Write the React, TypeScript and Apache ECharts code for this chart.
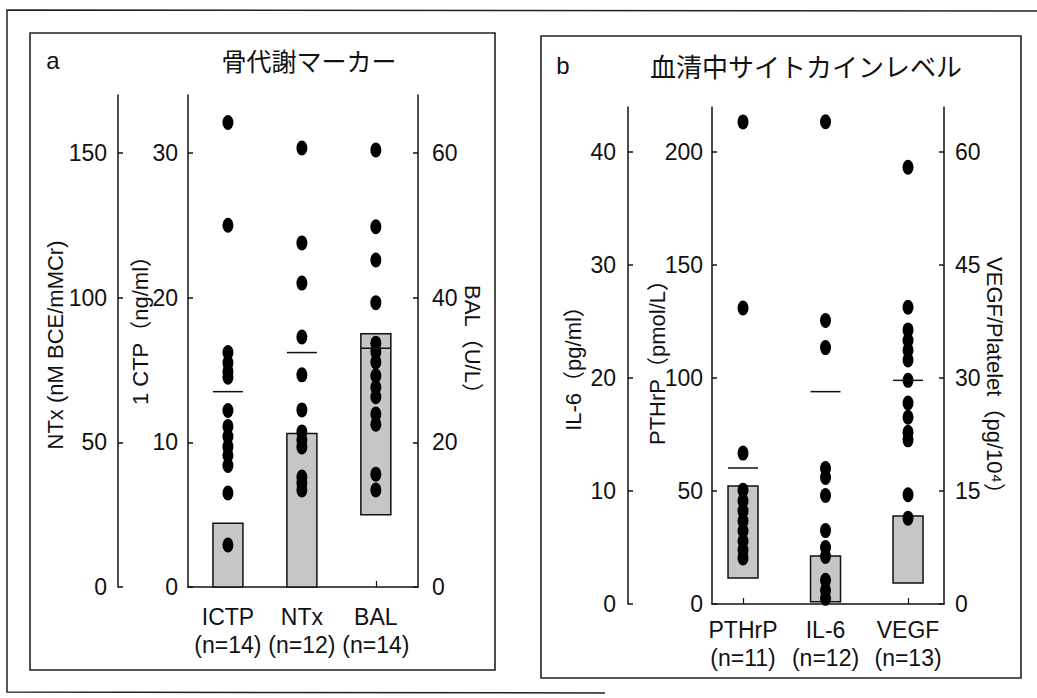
import React, { useEffect, useRef } from "react";
import * as echarts from "echarts";

// ---------- data ----------
// Panel a: 骨代謝マーカー
const panelACategories = ["ICTP", "NTx", "BAL"];
const panelACounts = [14, 12, 14];
const ictpValues = [32.1, 25.0, 16.2, 15.5, 14.9, 14.5, 12.2, 11.1, 10.4, 9.7, 9.1, 8.4, 6.5, 2.9]; // ng/ml
const ntxValues = [151.7, 118.9, 105.0, 86.4, 73.3, 61.2, 53.6, 50.8, 48.4, 38.0, 35.9, 33.5]; // nM BCE/mMCr
const balValues = [60.4, 49.8, 45.2, 39.3, 33.7, 32.5, 31.1, 29.2, 27.6, 26.3, 23.9, 22.5, 15.6, 13.4]; // U/L
const panelARangeLow = [0, 0, 10];
const panelARangeHigh = [4.4, 53, 35];
const panelAMeans = [13.5, 81, 33.0];

// Panel b: 血清中サイトカインレベル
const panelBCategories = ["PTHrP", "IL-6", "VEGF"];
const panelBCounts = [11, 12, 13];
const pthrpValues = [213.4, 131.0, 66.8, 50.4, 45.7, 41.2, 36.8, 32.4, 27.9, 23.9, 20.4]; // pmol/L
const il6Values = [42.7, 25.1, 22.7, 12.0, 11.2, 9.6, 6.5, 5.0, 4.2, 2.1, 1.2, 0.5]; // pg/ml
const vegfValues = [58.0, 39.4, 36.4, 35.0, 33.7, 32.4, 29.7, 26.7, 24.8, 22.8, 21.8, 14.5, 11.4]; // pg/10^4
const panelBRangeLow = [11.5, 0.2, 2.8];
const panelBRangeHigh = [52.2, 4.25, 11.7];
const panelBMeans = [60.2, 18.8, 29.7];

// tick labels
const ntxTicks = [0, 50, 100, 150];
const ctpTicks = [0, 10, 20, 30];
const balTicks = [0, 20, 40, 60];
const il6Ticks = [0, 10, 20, 30, 40];
const pthrpTicks = [0, 50, 100, 150, 200];
const vegfTicks = [0, 15, 30, 45, 60];
const categoryTicks = [0, 1, 2];

// ---------- styling ----------
const FONT = "'Liberation Sans', Arial, 'Noto Sans CJK JP', sans-serif";
const CJK = "'Noto Sans CJK JP', 'Liberation Sans', sans-serif";
const INK = "#111";

function yAxis(gridIndex: number, position: string, offset: number, max: number, ticks: number[], margin: number) {
  return {
    type: "value",
    gridIndex,
    position,
    offset,
    min: 0,
    max,
    axisLine: { show: true, onZero: false, lineStyle: { color: INK, width: 1.5 } },
    axisTick: { show: true, inside: true, length: 5, customValues: ticks, lineStyle: { color: INK, width: 1.5 } },
    axisLabel: { show: true, customValues: ticks, margin, fontSize: 23, color: INK, fontFamily: FONT },
    splitLine: { show: false },
  };
}

function xAxis(gridIndex: number, min: number, max: number, cats: string[], counts: number[], margin: number) {
  return {
    type: "value",
    gridIndex,
    min,
    max,
    axisLine: { show: true, onZero: false, lineStyle: { color: INK, width: 1.5 } },
    axisTick: { show: true, inside: true, length: 6, customValues: categoryTicks, lineStyle: { color: INK, width: 1.2 } },
    axisLabel: {
      show: true,
      customValues: categoryTicks,
      margin,
      fontSize: 23,
      lineHeight: 28,
      color: INK,
      fontFamily: FONT,
      formatter: (v: number) => `${cats[Math.round(v)]}\n(n=${counts[Math.round(v)]})`,
    },
    splitLine: { show: false },
  };
}

const DOT = "path://M5,0 A5,7 0 1,1 5,14 A5,7 0 1,1 5,0 Z";

function buildPanelSeries(
  xAxisIndex: number,
  yAxisIndices: number[],
  values: number[][],
  lows: number[],
  highs: number[],
  means: number[]
) {
  const out: any[] = [];
  values.forEach((vals, i) => {
    out.push({
      type: "custom",
      xAxisIndex,
      yAxisIndex: yAxisIndices[i],
      z: 1,
      silent: true,
      encode: { x: 0, y: [1, 2] },
      data: [[i, lows[i], highs[i]]],
      renderItem: (params: any, api: any) => {
        const x = api.value(0);
        const top = api.coord([x, api.value(2)]);
        const bot = api.coord([x, api.value(1)]);
        return {
          type: "rect",
          shape: { x: top[0] - 15, y: top[1], width: 30, height: bot[1] - top[1] },
          style: { fill: "#c6c6c6", stroke: INK, lineWidth: 1.5 },
        };
      },
    });
    out.push({
      type: "scatter",
      xAxisIndex,
      yAxisIndex: yAxisIndices[i],
      z: 2,
      symbol: DOT,
      symbolSize: [11, 15],
      itemStyle: { color: "#000", opacity: 1 },
      data: vals.map((v) => [i, v]),
    });
    out.push({
      type: "custom",
      xAxisIndex,
      yAxisIndex: yAxisIndices[i],
      z: 3,
      silent: true,
      encode: { x: 0, y: 1 },
      data: [[i, means[i]]],
      renderItem: (params: any, api: any) => {
        const p = api.coord([api.value(0), api.value(1)]);
        return {
          type: "line",
          shape: { x1: p[0] - 15, y1: p[1], x2: p[0] + 15, y2: p[1] },
          style: { stroke: INK, lineWidth: 1.5 },
        };
      },
    });
  });
  return out;
}

function rotatedText(text: string, x: number, y: number, rotation: number, font = FONT) {
  return {
    type: "text",
    x,
    y,
    rotation,
    style: { text, fontSize: 22, fontFamily: font, fill: INK, align: "center", verticalAlign: "middle" },
  };
}

export default function App() {
  const ref = useRef<HTMLDivElement>(null);

  useEffect(() => {
    document.body.style.margin = "0";
    if (!ref.current) return;
    const chart = echarts.init(ref.current, undefined, { renderer: "svg" });

    const option: any = {
      animation: false,
      backgroundColor: "#ffffff",
      grid: [
        { left: 188, width: 230, top: 95, height: 492 },
        { left: 712, width: 232, top: 107, height: 497 },
      ],
      xAxis: [
        xAxis(0, -0.54, 2.57, panelACategories, panelACounts, 16),
        xAxis(1, -0.376, 2.436, panelBCategories, panelBCounts, 12),
      ],
      yAxis: [
        yAxis(0, "left", 70, 170, ntxTicks, 11), // 0 NTx
        yAxis(0, "left", 0, 34, ctpTicks, 10), // 1 ICTP
        yAxis(0, "right", 0, 68, balTicks, 14), // 2 BAL
        yAxis(1, "left", 84, 44, il6Ticks, 12), // 3 IL-6
        yAxis(1, "left", 0, 220, pthrpTicks, 9), // 4 PTHrP
        yAxis(1, "right", 0, 66, vegfTicks, 11), // 5 VEGF
      ],
      series: [
        ...buildPanelSeries(0, [1, 0, 2], [ictpValues, ntxValues, balValues], panelARangeLow, panelARangeHigh, panelAMeans),
        ...buildPanelSeries(1, [4, 3, 5], [pthrpValues, il6Values, vegfValues], panelBRangeLow, panelBRangeHigh, panelBMeans),
      ],
      graphic: [
        {
          type: "polyline",
          silent: true,
          shape: { points: [[1037, 11], [7, 10], [7, 692], [605, 693]] },
          style: { stroke: "#222", lineWidth: 1.5, fill: null },
        },
        {
          type: "rect",
          silent: true,
          shape: { x: 30, y: 33, width: 465, height: 637 },
          style: { fill: "none", stroke: "#222", lineWidth: 1.6 },
        },
        {
          type: "rect",
          silent: true,
          shape: { x: 541, y: 36, width: 480, height: 642 },
          style: { fill: "none", stroke: "#222", lineWidth: 1.6 },
        },
        {
          type: "text",
          x: 53,
          y: 60,
          style: { text: "a", fontSize: 24, fontFamily: FONT, fill: INK, align: "center", verticalAlign: "middle" },
        },
        {
          type: "text",
          x: 309,
          y: 60,
          style: { text: "骨代謝マーカー", fontSize: 25, fontFamily: CJK, fill: INK, align: "center", verticalAlign: "middle" },
        },
        {
          type: "text",
          x: 563,
          y: 65,
          style: { text: "b", fontSize: 24, fontFamily: FONT, fill: INK, align: "center", verticalAlign: "middle" },
        },
        {
          type: "text",
          x: 806,
          y: 65,
          style: { text: "血清中サイトカインレベル", fontSize: 26, fontFamily: CJK, fill: INK, align: "center", verticalAlign: "middle" },
        },
        rotatedText("NTx (nM BCE/mMCr)", 55, 345, Math.PI / 2),
        rotatedText("1 CTP（ng/ml）", 140, 325, Math.PI / 2),
        rotatedText("BAL（U/L）", 472, 345, -Math.PI / 2),
        rotatedText("IL-6（pg/ml）", 573, 363, Math.PI / 2),
        rotatedText("PTHrP（pmol/L）", 657, 357, Math.PI / 2),
        rotatedText("VEGF/Platelet（pg/10⁴）", 994, 381, -Math.PI / 2),
      ],
    };

    chart.setOption(option);
    return () => chart.dispose();
  }, []);

  return <div ref={ref} style={{ width: 1037, height: 698 }} />;
}
